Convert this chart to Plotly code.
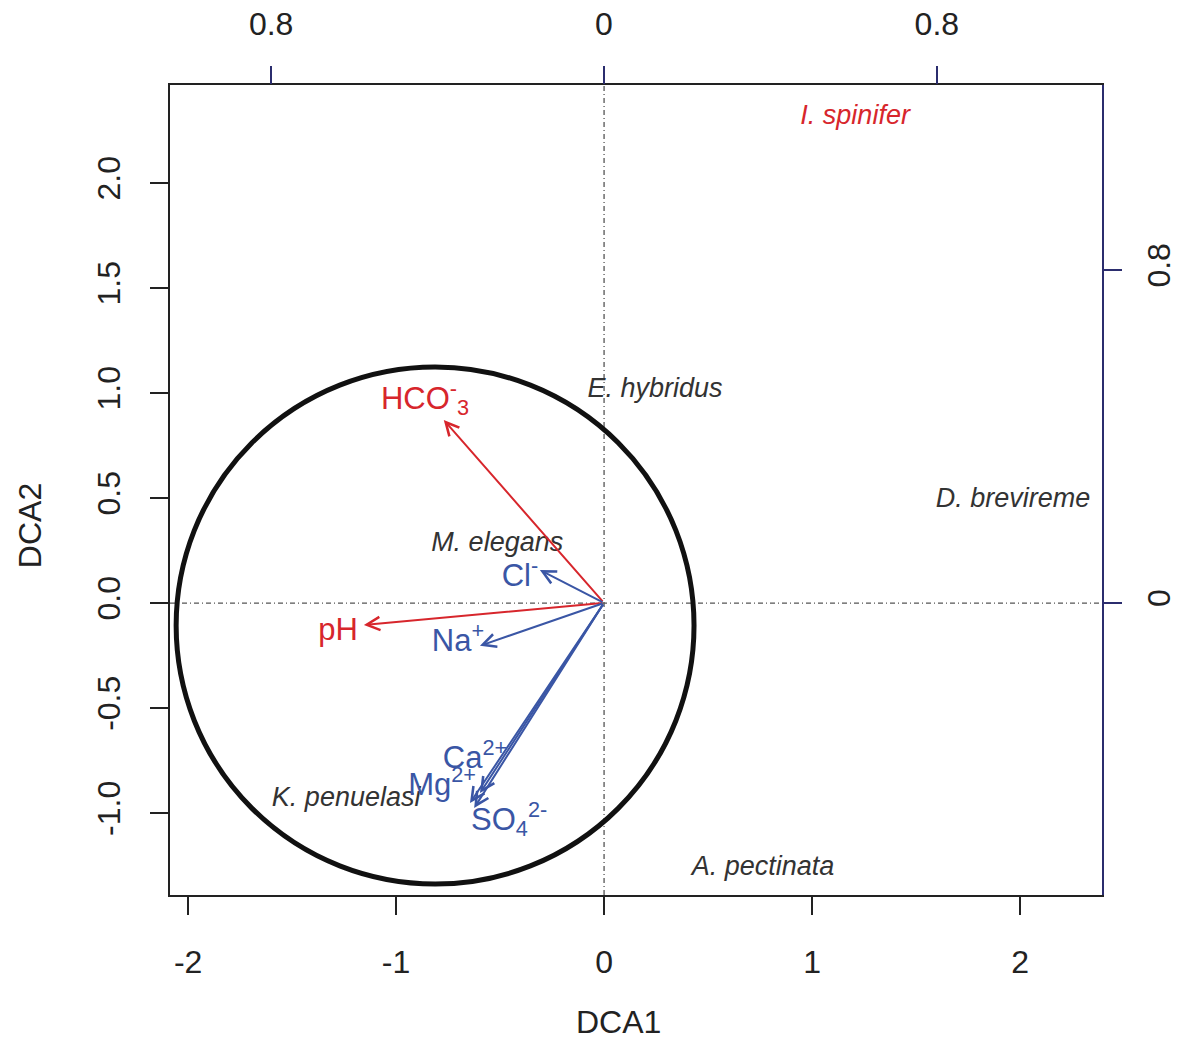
import plotly.graph_objects as go

# ---- species scores (DCA1 / DCA2, bottom/left axes) ----
species = ["I. spinifer", "E. hybridus", "D. brevireme", "M. elegans", "K. penuelasi", "A. pectinata"]
species_dca1 = [1.207, 0.245, 1.966, -0.514, -1.24, 0.764]
species_dca2 = [2.314, 1.014, 0.49, 0.281, -0.933, -1.262]
species_colors = ["#d7262c", "#333333", "#333333", "#333333", "#333333", "#333333"]

# ---- environmental vectors (top/right axes) ----
env_vars = ["HCO3", "pH", "Cl", "Na", "Ca", "Mg", "SO4"]
env_labels = ["HCO<sup>-</sup><sub>3</sub>", "pH", "Cl<sup>-</sup>", "Na<sup>+</sup>",
              "Ca<sup>2+</sup>", "Mg<sup>2+</sup>", "SO<sub>4</sub><sup>2-</sup>"]
env_x = [-0.385, -0.577, -0.154, -0.298, -0.298, -0.322, -0.312]
env_y = [0.44, -0.053, 0.079, -0.103, -0.457, -0.481, -0.493]
env_label_x = [-0.430, -0.639, -0.202, -0.351, -0.310, -0.389, -0.228]
env_label_y = [0.485, -0.070, 0.060, -0.096, -0.377, -0.442, -0.526]
env_colors = ["#d7262c", "#d7262c", "#3a56a5", "#3a56a5", "#3a56a5", "#3a56a5", "#3a56a5"]

# ---- circle (DCA units) ----
circle_cx, circle_cy = -0.8125, -0.107
circle_rx, circle_ry = 1.245, 1.231

# ---- axes ----
x_range = [-2.087, 2.394]
y_range = [-1.390, 2.467]
x_ticks = [-2, -1, 0, 1, 2]
x_ticktext = ["-2", "-1", "0", "1", "2"]
y_ticks = [-1.0, -0.5, 0.0, 0.5, 1.0, 1.5, 2.0]
y_ticktext = ["-1.0", "-0.5", "0.0", "0.5", "1.0", "1.5", "2.0"]
x2_range = [-1.043, 1.197]
y2_range = [-0.702, 1.245]
x2_ticks = [-0.8, 0, 0.8]
x2_ticktext = ["0.8", "0", "0.8"]
y2_ticks = [0, 0.8]
y2_ticktext = ["0", "0.8"]

FONT = "Liberation Sans"
NAVY = "#2b2d6e"
TICKFS = 32

fig = go.Figure()

# species labels
fig.add_trace(go.Scatter(
    x=species_dca1, y=species_dca2, mode="text",
    text=["<i>%s</i>" % s for s in species],
    textfont=dict(family=FONT, size=27, color=species_colors),
    textposition="middle center", hoverinfo="skip", showlegend=False,
))

# env labels on secondary axes
fig.add_trace(go.Scatter(
    x=env_label_x, y=env_label_y, mode="text", text=env_labels,
    textfont=dict(family=FONT, size=31, color=env_colors),
    textposition="middle center", xaxis="x2", yaxis="y2",
    hoverinfo="skip", showlegend=False,
))

# arrows
for xe, ye, c in zip(env_x, env_y, env_colors):
    fig.add_annotation(
        x=xe, y=ye, ax=0, ay=0, xref="x2", yref="y2", axref="x2", ayref="y2",
        showarrow=True, arrowhead=5, arrowsize=1.3, arrowwidth=2, arrowcolor=c, text="",
    )

# axis titles
fig.add_annotation(text="DCA1", xref="paper", yref="paper", x=0.4807, y=-0.157,
                   xanchor="center", yanchor="middle", showarrow=False,
                   font=dict(family=FONT, size=32, color="#222222"))
fig.add_annotation(text="DCA2", xref="paper", yref="paper", x=-0.150, y=0.4556,
                   xanchor="center", yanchor="middle", showarrow=False, textangle=-90,
                   font=dict(family=FONT, size=32, color="#222222"))

DOT = "5px,3px,1px,3px"
shapes = [
    dict(type="circle", xref="x", yref="y",
         x0=circle_cx - circle_rx, x1=circle_cx + circle_rx,
         y0=circle_cy - circle_ry, y1=circle_cy + circle_ry,
         line=dict(color="#111111", width=5)),
    dict(type="line", xref="x", yref="y domain", x0=0, x1=0, y0=0, y1=1,
         line=dict(color="#555555", width=1.3, dash=DOT), layer="below"),
    dict(type="line", xref="x domain", yref="y", x0=0, x1=1, y0=0, y1=0,
         line=dict(color="#555555", width=1.3, dash=DOT), layer="below"),
]

fig.update_layout(
    width=1183, height=1041,
    margin=dict(l=170, r=81, t=85, b=146),
    paper_bgcolor="white", plot_bgcolor="white",
    font=dict(family=FONT, size=30, color="#222222"),
    shapes=shapes,
    xaxis=dict(range=x_range, tickvals=x_ticks, ticktext=x_ticktext, ticks="outside",
               ticklen=18, tickwidth=1.5,
               tickcolor="#222222", showline=True, linecolor="#222222", linewidth=2, mirror=True,
               showgrid=False, zeroline=False, tickfont=dict(size=TICKFS), ticklabelstandoff=20,
               automargin=False),
    yaxis=dict(range=y_range, tickvals=y_ticks, ticktext=y_ticktext, tickangle=-90,
               ticks="outside", ticklen=18, tickwidth=1.5, tickcolor="#222222",
               showline=True, linecolor="#222222", linewidth=2, mirror=True,
               showgrid=False, zeroline=False, tickfont=dict(size=TICKFS), ticklabelstandoff=17,
               automargin=False),
    xaxis2=dict(range=x2_range, overlaying="x", side="top", anchor="y",
                tickvals=x2_ticks, ticktext=x2_ticktext, ticks="outside", ticklen=18,
                tickwidth=1.5, tickcolor=NAVY, showline=False, showgrid=False, zeroline=False,
                tickfont=dict(size=TICKFS), ticklabelstandoff=18, automargin=False),
    yaxis2=dict(range=y2_range, overlaying="y", side="right", anchor="x",
                tickvals=y2_ticks, ticktext=y2_ticktext, tickangle=-90, ticks="outside",
                ticklen=18, tickwidth=1.5, tickcolor=NAVY, showline=True, linecolor=NAVY,
                linewidth=2, showgrid=False, zeroline=False,
                tickfont=dict(size=TICKFS), ticklabelstandoff=10, automargin=False),
)

fig.write_html("out.html")
